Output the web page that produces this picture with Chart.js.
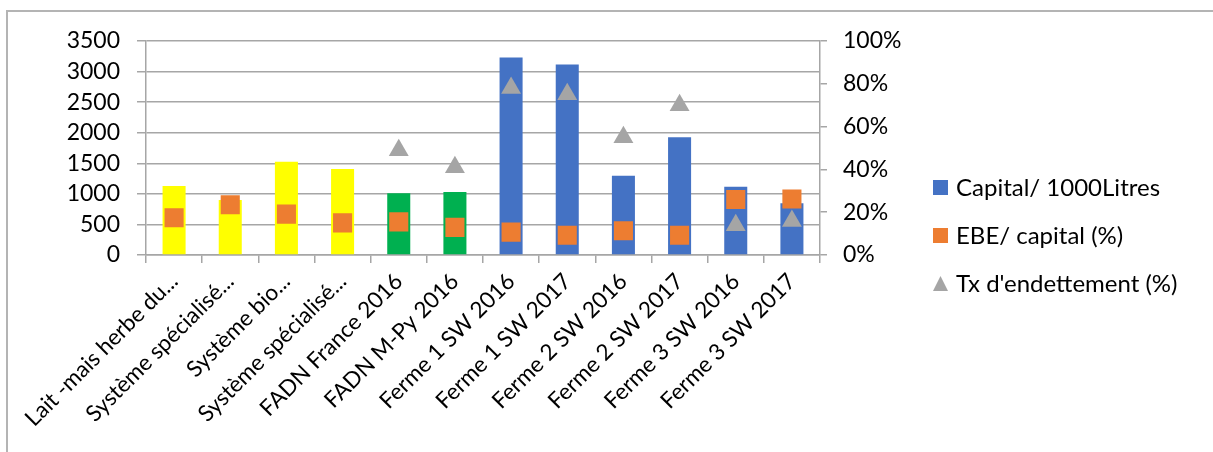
<!DOCTYPE html>
<html>
<head>
<meta charset="utf-8">
<script src="https://cdn.jsdelivr.net/npm/chart.js@4/dist/chart.umd.min.js"></script>
<style>
  html, body { margin: 0; padding: 0; background: #fff; }
  #wrap { position: relative; width: 1213px; height: 452px; }
  #frame { position: absolute; left: 6px; top: 10px; right: 0; bottom: 0;
           border-top: 2px solid #b4b4b4; border-left: 2px solid #b4b4b4; pointer-events: none; }
</style>
</head>
<body>
<div id="wrap">
  <canvas id="chart" width="1213" height="452"></canvas>
  <div id="frame"></div>
</div>
<script>
// Categories as shown (long names are cut in the original)
var categories = [
  'Lait -mais herbe du...',
  'Système spécialisé...',
  'Système bio...',
  'Système spécialisé...',
  'FADN France 2016',
  'FADN M-Py 2016',
  'Ferme 1 SW 2016',
  'Ferme 1 SW 2017',
  'Ferme 2 SW 2016',
  'Ferme 2 SW 2017',
  'Ferme 3 SW 2016',
  'Ferme 3 SW 2017'
];

// Capital / 1000 litres (left axis)
var capital = [1130, 900, 1525, 1405, 1010, 1030, 3230, 3115, 1295, 1925, 1115, 845];

// EBE / capital (%) (right axis)
var ebeCapital = [17.4, 23.5, 19.1, 15.0, 15.5, 12.9, 10.7, 9.2, 11.3, 9.2, 25.9, 26.2];

// Taux d'endettement (%) (right axis)
var txEndettement = [null, null, null, null, 48.9, 41.0, 78.0, 75.1, 55.0, 70.0, 13.9, 15.9];

var leftTicks = [0, 500, 1000, 1500, 2000, 2500, 3000, 3500];
var rightTicks = [0, 20, 40, 60, 80, 100];

var barColors = ['#FFFF00', '#FFFF00', '#FFFF00', '#FFFF00', '#00B050', '#00B050',
                 '#4472C4', '#4472C4', '#4472C4', '#4472C4', '#4472C4', '#4472C4'];
var legendColors = ['#4472C4', '#ED7D31', '#A5A5A5'];

var FONT = 'Lato, "Liberation Sans", sans-serif';
var GRID = '#a6a6a6';

Chart.defaults.font.family = FONT;
Chart.defaults.color = '#000';

// Legend drawn on the right, items in dataset order
var sideLegend = {
  id: 'sideLegend',
  afterDraw: function(chart) {
    var c = chart.ctx;
    var x0 = 933, size = 15, ys = [187.5, 235.5, 283.5];
    c.save();
    c.font = '24px ' + FONT;
    c.textBaseline = 'middle';
    c.textAlign = 'left';
    chart.data.datasets.forEach(function(ds, i) {
      var y = ys[i];
      c.fillStyle = legendColors[i];
      if (ds.pointStyle === 'triangle') {
        c.beginPath();
        c.moveTo(x0, y + 7.5);
        c.lineTo(x0 + size, y + 7.5);
        c.lineTo(x0 + size / 2, y - 7.5);
        c.closePath();
        c.fill();
      } else {
        c.fillRect(x0, y - size / 2, size, size);
      }
      c.fillStyle = '#000';
      c.fillText(ds.label, x0 + size + 8, y + 1);
    });
    c.restore();
  }
};

var ctx = document.getElementById('chart');

new Chart(ctx, {
  type: 'bar',
  data: {
    labels: categories,
    datasets: [
      {
        label: 'Capital/ 1000Litres',
        data: capital,
        backgroundColor: barColors,
        borderWidth: 0,
        barPercentage: 0.41,
        categoryPercentage: 1,
        yAxisID: 'y',
        order: 3
      },
      {
        label: 'EBE/ capital (%)',
        type: 'line',
        data: ebeCapital,
        showLine: false,
        pointStyle: 'rect',
        pointRadius: 13.5,
        pointHoverRadius: 13.5,
        backgroundColor: '#ED7D31',
        borderColor: '#ED7D31',
        borderWidth: 0,
        yAxisID: 'y1',
        order: 2
      },
      {
        label: "Tx d'endettement (%)",
        type: 'line',
        data: txEndettement,
        showLine: false,
        pointStyle: 'triangle',
        pointRadius: 11.5,
        pointHoverRadius: 11.5,
        backgroundColor: '#A5A5A5',
        borderColor: '#A5A5A5',
        borderWidth: 0,
        yAxisID: 'y1',
        order: 1
      }
    ]
  },
  options: {
    responsive: false,
    animation: false,
    layout: { padding: { top: 41, right: 0, bottom: 0, left: 0 } },
    plugins: {
      tooltip: { enabled: false },
      legend: { display: false }
    },
    scales: {
      x: {
        offset: true,
        grid: { drawOnChartArea: false, drawTicks: true, tickLength: 8, color: GRID, lineWidth: 1.5 },
        border: { color: GRID, width: 1.5 },
        ticks: { font: { size: 22.5 }, maxRotation: 45, minRotation: 45, autoSkip: false, padding: 5 },
        afterFit: function(scale) { scale.height = 197; }
      },
      y: {
        position: 'left',
        min: 0,
        max: 3500,
        afterBuildTicks: function(scale) {
          scale.ticks = leftTicks.map(function(v) { return { value: v }; });
        },
        grid: { color: GRID, tickLength: 9, lineWidth: 1.5 },
        border: { color: GRID, width: 1.5 },
        ticks: {
          font: { size: 23 },
          padding: 17,
          autoSkip: false,
          callback: function(v) { return String(v); }
        },
        afterFit: function(scale) { scale.width = 146; }
      },
      y1: {
        position: 'right',
        min: 0,
        max: 100,
        afterBuildTicks: function(scale) {
          scale.ticks = rightTicks.map(function(v) { return { value: v }; });
        },
        grid: { drawOnChartArea: false, color: GRID, tickLength: 7, lineWidth: 1.5 },
        border: { color: GRID, width: 1.5 },
        ticks: {
          font: { size: 23 },
          padding: 16,
          autoSkip: false,
          callback: function(v) { return v + '%'; }
        },
        afterFit: function(scale) { scale.width = 393; }
      }
    }
  },
  plugins: [sideLegend]
});
</script>
</body>
</html>
